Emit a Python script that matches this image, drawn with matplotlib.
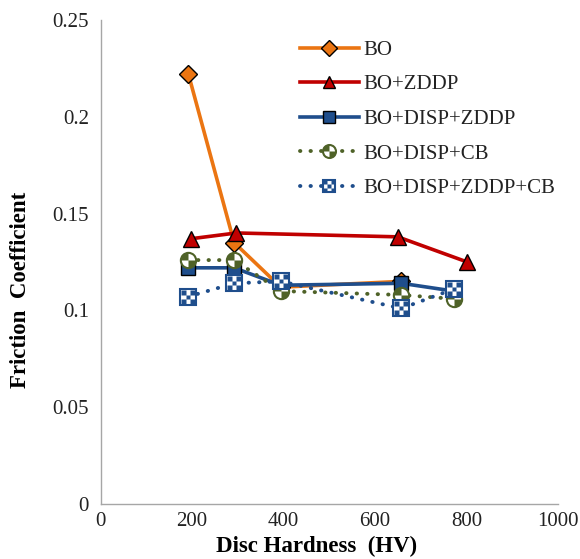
import matplotlib
matplotlib.use("Agg")
import matplotlib.pyplot as plt
from matplotlib.path import Path
from matplotlib.legend_handler import HandlerTuple

plt.rcParams["font.family"] = ["Liberation Serif", "DejaVu Serif"]

# data
bo_x = [192, 292, 394, 658]
bo_y = [0.222, 0.135, 0.112, 0.115]

zddp_x = [197, 297, 650, 802]
zddp_y = [0.137, 0.140, 0.138, 0.125]

disp_zddp_x = [190, 292, 394, 658, 772]
disp_zddp_y = [0.122, 0.122, 0.113, 0.114, 0.110]

disp_cb_x = [190, 292, 394, 656, 772]
disp_cb_y = [0.126, 0.126, 0.110, 0.108, 0.106]

disp_zddp_cb_x = [190, 292, 394, 658, 772]
disp_zddp_cb_y = [0.107, 0.114, 0.115, 0.101, 0.111]

labels = ["BO", "BO+ZDDP", "BO+DISP+ZDDP", "BO+DISP+CB", "BO+DISP+ZDDP+CB"]

ORANGE = "#EB7512"
RED = "#C00000"
BLUE = "#1F4E8C"
GREEN = "#4F6228"

# quadrant markers for the patterned symbols
quad_circle = Path.make_compound_path(Path.wedge(90, 180), Path.wedge(270, 360))


def cell(i, j, n=3):
    s = 2.0 / n
    x0 = -1 + j * s
    y0 = -1 + i * s
    return Path([(x0, y0), (x0 + s, y0), (x0 + s, y0 + s), (x0, y0 + s), (x0, y0)],
                [Path.MOVETO, Path.LINETO, Path.LINETO, Path.LINETO, Path.CLOSEPOLY])


checker = Path.make_compound_path(*[cell(i, j) for i in range(3) for j in range(3) if (i + j) % 2 == 0])

fig = plt.figure(figsize=(5.8, 5.59), dpi=100)
ax = fig.add_axes([0.1736, 0.0984, 0.788, 0.8658])

h1, = ax.plot(bo_x, bo_y, color=ORANGE, lw=2.6, marker="D", ms=9,
              mfc=ORANGE, mec="black", mew=1.0)
h2, = ax.plot(zddp_x, zddp_y, color=RED, lw=2.6, marker="^", ms=11,
              mfc=RED, mec="black", mew=1.0)
h3, = ax.plot(disp_zddp_x, disp_zddp_y, color=BLUE, lw=2.6, marker="s", ms=10.5,
              mfc=BLUE, mec="black", mew=1.0)

h4a, = ax.plot(disp_cb_x, disp_cb_y, color=GREEN, lw=2.8, ls=(0, (0.1, 2.6)),
               dash_capstyle="round", marker="o", ms=11, mfc="white", mec=GREEN, mew=1.5)
h4b, = ax.plot(disp_cb_x, disp_cb_y, ls="none", marker=quad_circle, ms=11,
               mfc=GREEN, mec="none")

h5a, = ax.plot(disp_zddp_cb_x, disp_zddp_cb_y, color=BLUE, lw=2.8, ls=(0, (0.1, 2.6)),
               dash_capstyle="round", marker="s", ms=11, mfc="white", mec=BLUE, mew=1.5)
h5b, = ax.plot(disp_zddp_cb_x, disp_zddp_cb_y, ls="none", marker=checker, ms=10,
               mfc=BLUE, mec="none")

ax.set_xlim(0, 1000)
ax.set_ylim(0, 0.25)
ax.set_xticks([0, 200, 400, 600, 800, 1000])
ax.set_yticks([0, 0.05, 0.1, 0.15, 0.2, 0.25])
ax.set_yticklabels(["0", "0.05", "0.1", "0.15", "0.2", "0.25"])
ax.tick_params(axis="y", length=0, labelsize=15, colors="#222222", pad=8.5)
ax.tick_params(axis="x", length=0, labelsize=15, colors="#222222", pad=6)

for s in ["top", "right"]:
    ax.spines[s].set_visible(False)
for s in ["left", "bottom"]:
    ax.spines[s].set_color("#A6A6A6")
    ax.spines[s].set_linewidth(1.0)

ax.set_xlabel("Disc Hardness  (HV)", fontsize=16.5, fontweight="bold", labelpad=3.5)
ax.xaxis.label.set_x(0.472)
ax.set_ylabel("Friction  Coefficient", fontsize=16.5, fontweight="bold")
ax.yaxis.set_label_coords(-0.153, 0.442)

leg = ax.legend([h1, h2, h3, (h4a, h4b), (h5a, h5b)], labels,
                handler_map={tuple: HandlerTuple(ndivide=1, pad=0)},
                loc="upper left", bbox_to_anchor=(0.394, 0.997), frameon=False,
                fontsize=15, handlelength=2.85, handletextpad=0.2, labelspacing=0.72,
                markerscale=0.85, borderpad=0.4)
for t in leg.get_texts():
    t.set_color("#222222")

fig.savefig("out.png", dpi=100)
